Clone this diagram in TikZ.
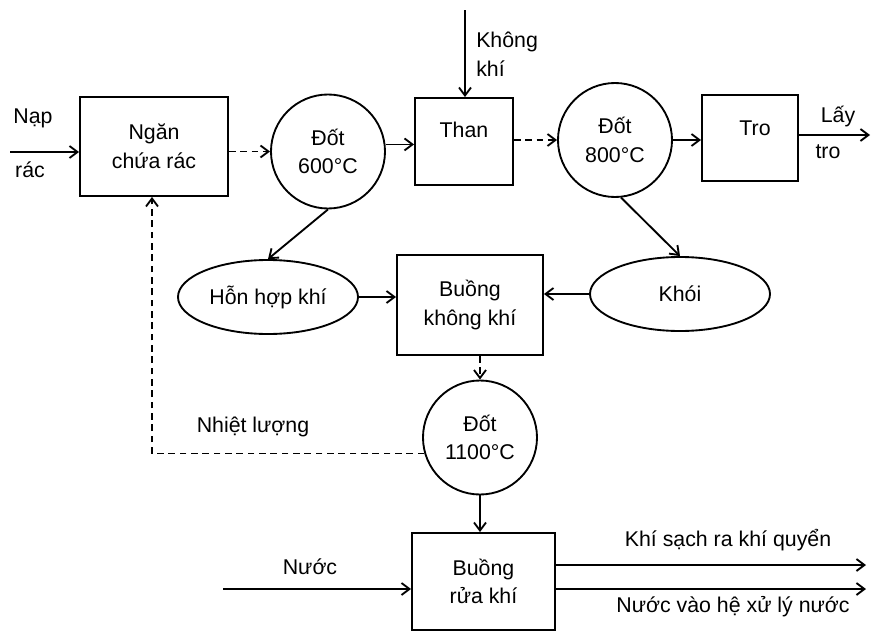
\documentclass[tikz,border=0pt]{standalone}
\usepackage{fontspec}
\setmainfont{Liberation Sans}
\usetikzlibrary{arrows.meta,shapes.geometric}
\begin{document}
\begin{tikzpicture}[x=0.75pt,y=-0.75pt,
  every node/.style={font=\fontsize{16}{21.5}\selectfont, inner sep=0pt},
  box/.style={draw, line width=1.4pt, rectangle},
  circ/.style={draw, line width=1.4pt, circle, minimum size=85.5pt, align=center},
  ell/.style={draw, line width=1.4pt, ellipse, minimum width=135pt, minimum height=55.5pt},
  flow/.style={line width=1.4pt, -{Straight Barb[length=6pt,width=9pt]}},
  dflow/.style={flow, dash pattern=on 5pt off 3.5pt}
]
\useasboundingbox (0,0) rectangle (872,632);

% Ngan chua rac
\node[box, align=center, minimum width=111pt, minimum height=74.25pt] (ngan) at (154,146.5) {Ngăn\\chứa rác};
\coordinate (napin) at (10,152);
\draw[flow] (napin) -- (ngan.west |- napin);
\node (nap) at (33,118) {Nạp};
\node (rac) at (30,170) {rác};

% Dot 600
\node[circ] (c1) at (328,151.5) {Đốt\\600°C};
\draw[dflow] (ngan.east |- c1) -- (c1.west);

% Than
\node[box, minimum width=73.5pt, minimum height=65.25pt] (than) at (464,141.5) {};
\node (thant) at (464,130) {Than};
\draw[flow] (c1.7) -- (than.west |- c1.7);
\coordinate (airin) at (465,10);
\draw[flow] (airin) -- (than.north -| airin);
\node[align=left, anchor=west] (air) at (476,54) {Không\\khí};

% Dot 800
\node[circ] (c2) at (615,140) {Đốt\\800°C};
\draw[dflow] (than.east |- c2) -- (c2.west);

% Tro
\node[box, minimum width=72pt, minimum height=64.5pt] (tro) at (750,138) {};
\node (trot) at (755,128) {Tro};
\draw[flow] (c2.east) -- (tro.west |- c2.east);
\coordinate (layout) at (870,135);
\draw[flow] (tro.east |- layout) -- (layout);
\node (lay) at (838,117) {Lấy};
\node (tro2) at (828,152) {tro};

% Khoi
\node[ell] (khoi) at (680,294) {Khói};
\draw[flow] (c2.-84) -- (khoi.north);

% Buong khong khi
\node[box, align=center, minimum width=109.5pt, minimum height=75pt] (bk) at (470,305) {Buồng\\không khí};
\draw[flow] (khoi.west) -- (bk.east |- khoi.west);

% Hon hop khi
\node[ell] (hh) at (268,297) {Hỗn hợp khí};
\draw[flow] (hh.east) -- (bk.west |- hh.east);
\draw[flow] (c1.south) -- (hh.north);

% Dot 1100
\node[circ] (c3) at (480,437.5) {Đốt\\1100°C};
\draw[dflow] (bk.south -| c3) -- (c3.north);

% Nhiet luong
\coordinate (hc) at (152,453);
\draw[dflow] (c3.196) -- (c3.196 -| hc) -- (ngan.south -| hc);
\node (heat) at (253,427) {Nhiệt lượng};

% Buong rua khi
\node[box, align=center, minimum width=107.25pt, minimum height=72.75pt] (br) at (483.5,581.5) {Buồng\\rửa khí};
\draw[flow] (c3.south) -- (br.north -| c3);
\coordinate (win) at (223,589);
\draw[flow] (win) -- (br.west |- win);
\node (nuoc) at (310,567) {Nước};
\coordinate (o1) at (866,565);
\coordinate (o2) at (866,589);
\draw[flow] (br.east |- o1) -- (o1);
\draw[flow] (br.east |- o2) -- (o2);
\node (ks) at (728,540) {Khí sạch ra khí quyển};
\node (nv) at (733,607) {Nước vào hệ xử lý nước};
\end{tikzpicture}
\end{document}
